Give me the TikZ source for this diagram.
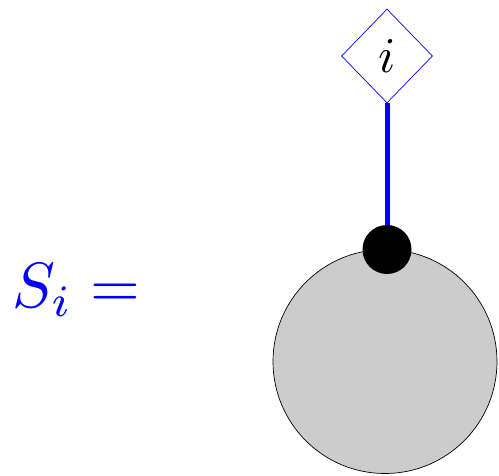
\documentclass[tikz,border=0pt]{standalone}
\usepackage{graphicx}
\usetikzlibrary{shapes.geometric}
\begin{document}
\begin{tikzpicture}[x=1pt,y=-1pt,
  bigball/.style={circle,draw=black,line width=0.7pt,fill=black!20,minimum size=224pt,inner sep=0pt},
  dotnode/.style={circle,fill=black,minimum size=49pt,inner sep=0pt},
  labelbox/.style={diamond,draw=blue,line width=0.7pt,minimum width=91pt,minimum height=94pt,inner sep=0pt},
  leg/.style={draw=blue,line width=5pt}]
\useasboundingbox (0,0) rectangle (499,475);
\node[bigball] (ball) at (385,361.5) {};
\node[labelbox] (lab) at (387,56) {\scalebox{5}{$i$}};
\coordinate (top) at (387,249.5);
\draw[leg] (top) -- (lab.south);
\node[dotnode] (dot) at (top) {};
\node[text=blue,anchor=west,inner sep=0pt] (eq) at (12,290) {\scalebox{6.4}{$S_i =$}};
\end{tikzpicture}
\end{document}
